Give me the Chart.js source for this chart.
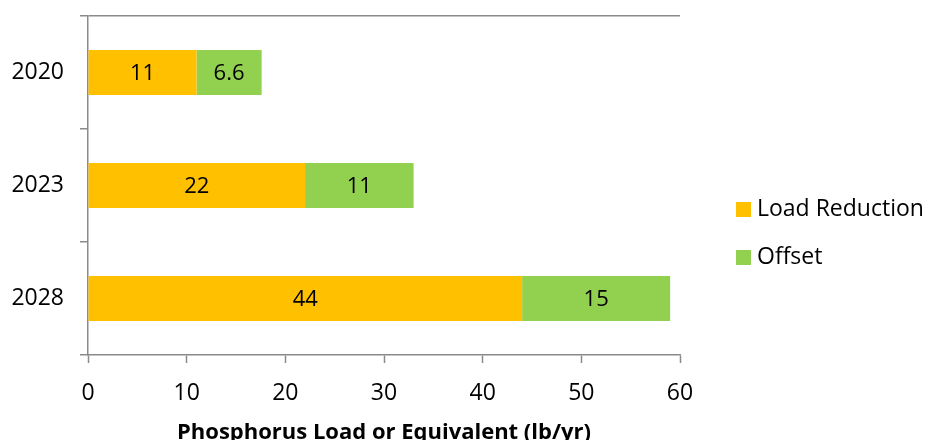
<!DOCTYPE html>
<html>
<head>
<meta charset="utf-8">
<script src="https://cdn.jsdelivr.net/npm/chart.js@4/dist/chart.umd.min.js"></script>
<style>
  body { margin: 0; background: #fff; }
  #wrap { width: 927px; height: 440px; }
</style>
</head>
<body>
<div id="wrap"><canvas id="chart" width="927" height="440"></canvas></div>
<script>
// Phosphorus load chart - stacked horizontal bars
const years = ['2020', '2023', '2028'];
const loadReduction = [11, 22, 44];
const offset = [6.6, 11, 15];
const xTicksMax = 60;
const axisTitle = 'Phosphorus Load or Equivalent (lb/yr)';

const FONT = 'Open Sans';
const GRAY = '#8a8a8a';

// value labels centred inside each bar segment
const barLabels = {
    id: 'barLabels',
    afterDatasetsDraw(chart) {
        const ctx = chart.ctx;
        ctx.save();
        ctx.font = `22px "${FONT}"`;
        ctx.fillStyle = '#000';
        ctx.textAlign = 'center';
        ctx.textBaseline = 'middle';
        chart.data.datasets.forEach((ds, i) => {
            chart.getDatasetMeta(i).data.forEach((bar, j) => {
                ctx.fillText(String(ds.data[j]), (bar.x + bar.base) / 2, bar.y + 1);
            });
        });
        ctx.restore();
    }
};

// legend on the right, drawn by hand so it sits where the original does
const sideLegend = {
    id: 'sideLegend',
    afterDraw(chart) {
        const ctx = chart.ctx;
        ctx.save();
        ctx.font = `23px "${FONT}"`;
        ctx.textBaseline = 'middle';
        chart.data.datasets.forEach((ds, i) => {
            const cy = 209 + i * 48;
            ctx.fillStyle = ds.backgroundColor;
            ctx.fillRect(736, cy - 7, 15, 15);
            ctx.fillStyle = '#000';
            ctx.fillText(ds.label, 757, cy);
        });
        ctx.restore();
    }
};

const chart = new Chart(document.getElementById('chart').getContext('2d'), {
    type: 'bar',
    data: {
        labels: years,
        datasets: [
            { label: 'Load Reduction', data: loadReduction, backgroundColor: '#FFC000', barPercentage: 0.4, categoryPercentage: 1 },
            { label: 'Offset', data: offset, backgroundColor: '#92D050', barPercentage: 0.4, categoryPercentage: 1 }
        ]
    },
    options: {
        indexAxis: 'y',
        responsive: false,
        animation: false,
        layout: { padding: { top: 16, right: 247, left: 0, bottom: 0 } },
        scales: {
            x: {
                stacked: true,
                min: 0,
                max: xTicksMax,
                ticks: { stepSize: 10, color: '#000', padding: 17, font: { family: FONT, size: 23 } },
                grid: { drawOnChartArea: false, tickLength: 8, tickColor: GRAY, tickWidth: 1.5 },
                border: { color: GRAY, width: 1.5 },
                title: {
                    display: true,
                    text: axisTitle,
                    color: '#000',
                    padding: 0,
                    font: { family: FONT, size: 22, weight: 'bold', lineHeight: 0.7 }
                },
                afterFit(scale) { scale.height = 85; }
            },
            y: {
                stacked: true,
                ticks: { color: '#000', padding: 16, font: { family: FONT, size: 23 } },
                grid: {
                    offset: true,
                    tickLength: 8,
                    tickColor: GRAY,
                    tickWidth: 1.5,
                    lineWidth: 1.5,
                    color: (c) => c.index === 0 ? GRAY : 'rgba(0,0,0,0)'
                },
                border: { color: GRAY, width: 1.5 },
                afterFit(scale) {
                    scale.width = 88;
                    scale.paddingTop = 0;
                    scale.paddingBottom = 0;
                }
            }
        },
        plugins: {
            legend: { display: false },
            tooltip: { enabled: false }
        }
    },
    plugins: [barLabels, sideLegend]
});
</script>
</body>
</html>
